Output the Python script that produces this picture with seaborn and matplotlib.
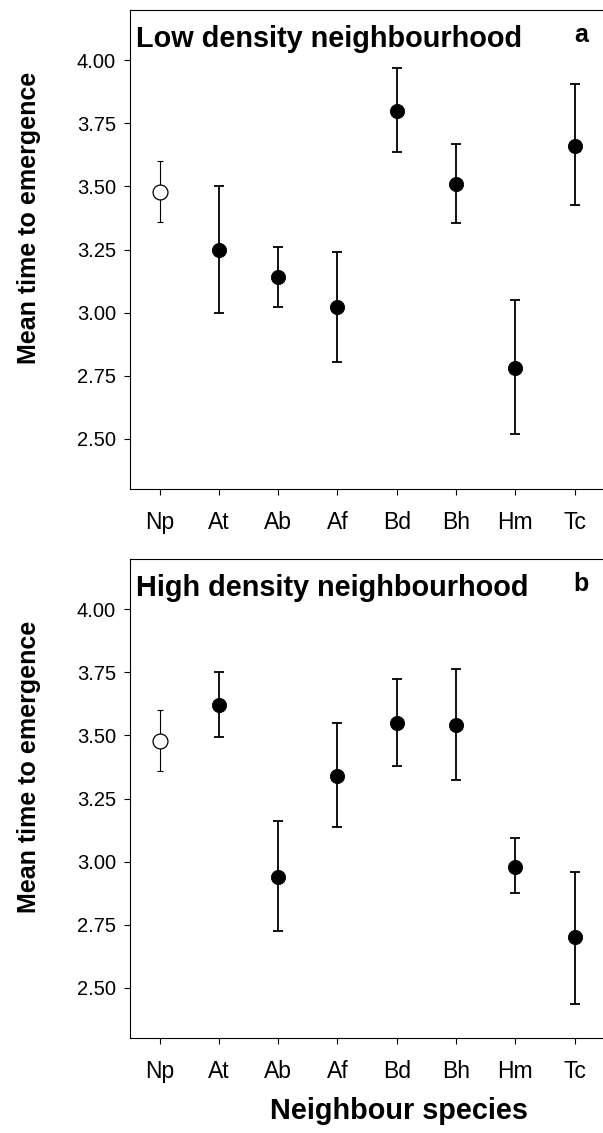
import numpy as np
import pandas as pd
import matplotlib
matplotlib.use("Agg")
import matplotlib.pyplot as plt
import seaborn as sns

# neighbour species on the x axis
species = ["Np", "At", "Ab", "Af", "Bd", "Bh", "Hm", "Tc"]

# panel a: low density neighbourhood (mean, lower and upper end of bar)
low_mean = [3.48, 3.25, 3.14, 3.02, 3.80, 3.51, 2.78, 3.66]
low_lo = [3.36, 3.00, 3.02, 2.805, 3.635, 3.355, 2.52, 3.425]
low_hi = [3.60, 3.50, 3.26, 3.24, 3.97, 3.67, 3.05, 3.905]

# panel b: high density neighbourhood
high_mean = [3.48, 3.62, 2.94, 3.34, 3.55, 3.54, 2.98, 2.70]
high_lo = [3.36, 3.495, 2.725, 3.135, 3.38, 3.325, 2.875, 2.435]
high_hi = [3.60, 3.75, 3.16, 3.55, 3.725, 3.765, 3.095, 2.96]

yticks = [2.50, 2.75, 3.00, 3.25, 3.50, 3.75, 4.00]

sns.set_theme(style="ticks", rc={"text.color": "black", "axes.labelcolor": "black",
                                 "xtick.color": "black", "ytick.color": "black",
                                 "axes.edgecolor": "black"})
plt.rcParams['font.family'] = ['Liberation Sans', 'DejaVu Sans']

W, H = 603, 1133
fig = plt.figure(figsize=(W / 100, H / 100), dpi=100)
ax_a = fig.add_axes([130 / W, 1 - 489 / H, 1 - 130 / W + 0.002, (489 - 10) / H])
ax_b = fig.add_axes([130 / W, 1 - 1038 / H, 1 - 130 / W + 0.002, (1038 - 559) / H])


def draw(ax, mean, lo, hi, title, letter):
    df = pd.DataFrame({"species": species, "mean": mean, "lo": lo, "hi": hi})
    df["x"] = np.arange(len(df))
    df["control"] = df["species"] == "Np"
    for ctrl, sub in df.groupby("control"):
        err = [sub["mean"] - sub["lo"], sub["hi"] - sub["mean"]]
        ax.errorbar(sub["x"], sub["mean"], yerr=err, fmt="none", ecolor="black",
                    elinewidth=0.8 if ctrl else 1.3, capsize=2.5 if ctrl else 3.8,
                    capthick=0.8 if ctrl else 1.3, zorder=2)
    sns.scatterplot(data=df[~df["control"]], x="x", y="mean", ax=ax, color="black",
                    s=105, edgecolor="black", linewidth=0.6, zorder=3, legend=False)
    sns.scatterplot(data=df[df["control"]], x="x", y="mean", ax=ax, color="white",
                    s=115, edgecolor="black", linewidth=0.9, zorder=3, legend=False)
    ax.set_xlim(-0.5, 7.5)
    ax.set_ylim(2.30, 4.20)
    ax.set_xticks(df["x"])
    ax.set_xticklabels(species)
    ax.set_yticks(yticks)
    ax.set_yticklabels([f"{t:.2f}" for t in yticks])
    ax.tick_params(axis="both", length=4, width=0.8)
    ax.tick_params(axis="x", labelsize=16.5, pad=12)
    ax.tick_params(axis="y", labelsize=14.5, pad=6)
    for side in ["left", "top", "bottom"]:
        ax.spines[side].set_linewidth(0.8)
    ax.spines["right"].set_visible(False)
    ax.set_xlabel("")
    ax.set_ylabel("Mean time to emergence", fontsize=18, fontweight="bold")
    ax.yaxis.set_label_coords(-0.188, 0.566)
    ax.text(0.012, 0.968, title, transform=ax.transAxes, fontsize=20.8,
            fontweight="bold", va="top", ha="left")
    ax.text(0.951, 0.972, letter, transform=ax.transAxes, fontsize=18,
            fontweight="bold", va="top", ha="center")


draw(ax_a, low_mean, low_lo, low_hi, "Low density neighbourhood", "a")
draw(ax_b, high_mean, high_lo, high_hi, "High density neighbourhood", "b")
ax_b.set_xlabel("Neighbour species", fontsize=20.8, fontweight="bold")
ax_b.xaxis.set_label_coords(0.567, -0.124)

fig.savefig("out.png", dpi=100)
